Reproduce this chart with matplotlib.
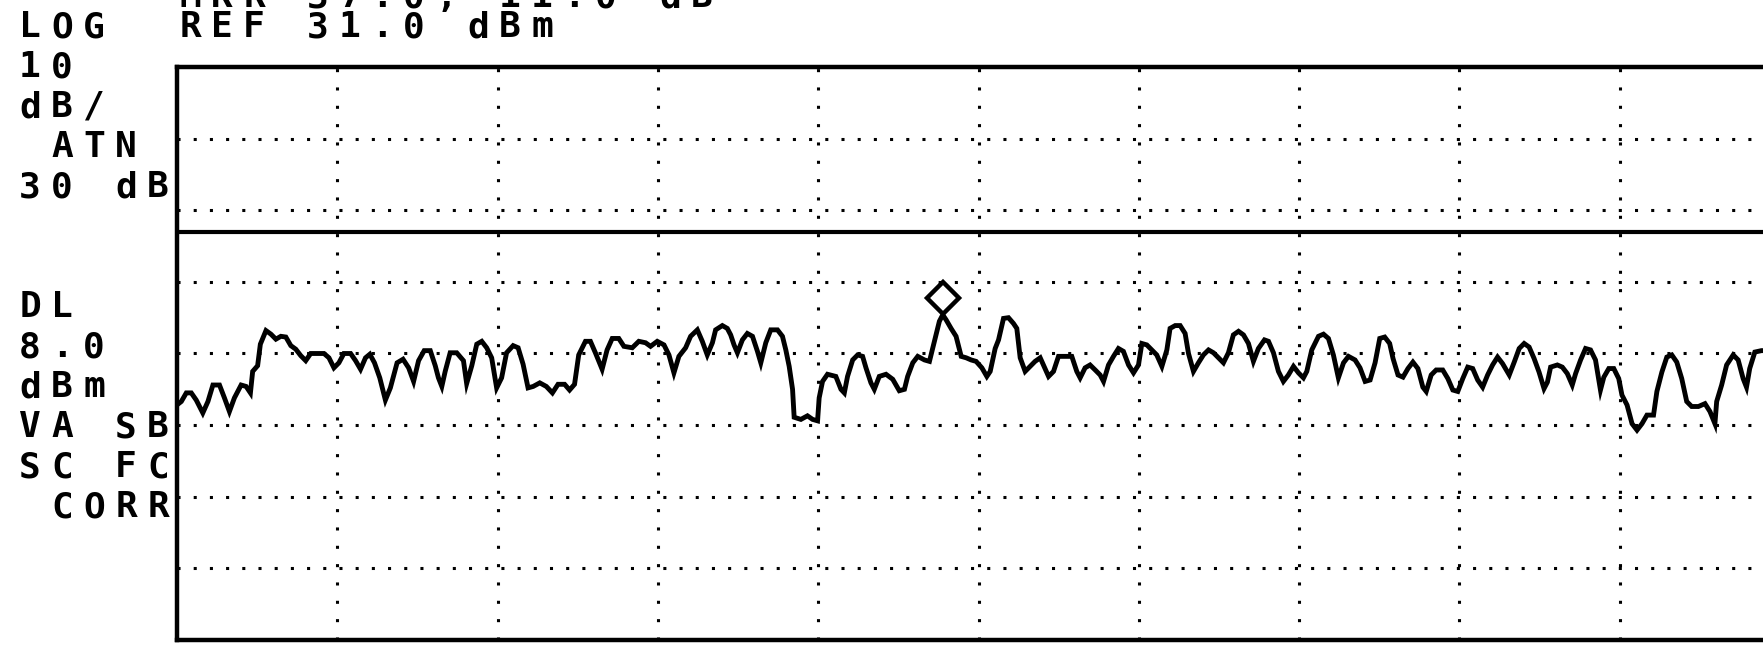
import matplotlib
matplotlib.use("Agg")
import matplotlib.pyplot as plt

# analyzer settings shown on screen
ref_level = 31.0      # dBm, top graticule line
db_per_div = 10.0
display_line = 8.0    # dBm
n_div_x = 10
n_div_y = 8

# trace: sweep position (divisions) and level (dBm)
sweep_div = [
    0.01, 0.027, 0.058, 0.089, 0.120, 0.161, 0.193, 0.224, 0.265, 0.296,
    0.327, 0.358, 0.400, 0.431, 0.458, 0.472, 0.503, 0.520, 0.555, 0.586,
    0.617, 0.648, 0.679, 0.710, 0.741, 0.772, 0.803, 0.834, 0.876, 0.917,
    0.948, 0.979, 1.010, 1.041, 1.083, 1.114, 1.145, 1.176, 1.203, 1.232,
    1.265, 1.300, 1.331, 1.373, 1.410, 1.445, 1.476, 1.507, 1.542, 1.580,
    1.611, 1.631, 1.652, 1.673, 1.704, 1.745, 1.787, 1.807, 1.839, 1.870,
    1.901, 1.932, 1.963, 1.994, 2.025, 2.056, 2.097, 2.128, 2.159, 2.190,
    2.222, 2.263, 2.304, 2.342, 2.377, 2.418, 2.449, 2.480,
    2.506, 2.548, 2.579, 2.610, 2.652, 2.683, 2.715, 2.756, 2.788, 2.840,
    2.881, 2.923, 2.954, 2.996, 3.038, 3.069, 3.100, 3.131, 3.173, 3.204,
    3.246, 3.277, 3.308, 3.340, 3.360, 3.402, 3.433, 3.454, 3.475, 3.496,
    3.527, 3.558, 3.590, 3.621, 3.642, 3.673, 3.704, 3.746, 3.777, 3.798,
    3.819, 3.840, 3.850, 3.892, 3.933, 3.965, 3.996, 4.006, 4.027, 4.058,
    4.110, 4.142, 4.163, 4.183, 4.215, 4.246, 4.277, 4.298, 4.329, 4.350,
    4.381, 4.423, 4.465, 4.506, 4.538, 4.558, 4.590, 4.621, 4.663, 4.694,
    4.725, 4.756, 4.777, 4.798, 4.829, 4.860, 4.892, 4.923, 4.954, 4.985,
    5.021, 5.052, 5.073, 5.104, 5.125, 5.156, 5.187, 5.218, 5.239, 5.260,
    5.291, 5.322, 5.353, 5.385, 5.405, 5.437, 5.468, 5.499, 5.541, 5.582,
    5.613, 5.634, 5.665, 5.696, 5.728, 5.759, 5.780, 5.811, 5.842, 5.873,
    5.904, 5.936, 5.967, 5.998, 6.019, 6.050, 6.081, 6.112, 6.144, 6.175,
    6.195, 6.227, 6.258, 6.289, 6.310, 6.341, 6.372, 6.403, 6.435, 6.466,
    6.497, 6.528, 6.559, 6.590, 6.622, 6.653, 6.684, 6.715, 6.746, 6.784,
    6.809, 6.840, 6.871, 6.902, 6.933, 6.965, 6.996, 7.027, 7.048, 7.079,
    7.121, 7.152, 7.183, 7.214, 7.245, 7.277, 7.308, 7.349, 7.380, 7.412,
    7.443, 7.474,
    7.503, 7.534, 7.565, 7.586, 7.617, 7.648, 7.679, 7.710, 7.741, 7.772,
    7.793, 7.824, 7.855, 7.896, 7.928, 7.959, 7.990, 8.021, 8.052, 8.083,
    8.114, 8.145, 8.176, 8.207, 8.238, 8.269, 8.311, 8.342, 8.373, 8.404,
    8.435, 8.466, 8.497, 8.528, 8.549, 8.569, 8.611, 8.642, 8.673, 8.704,
    8.725, 8.756, 8.787, 8.818, 8.849, 8.880, 8.901, 8.932, 8.963, 8.994,
    9.014, 9.046, 9.077, 9.108, 9.139, 9.170, 9.211, 9.232, 9.263, 9.294,
    9.325, 9.356, 9.387, 9.418, 9.449, 9.491, 9.532, 9.563, 9.594, 9.605,
    9.636, 9.667, 9.708, 9.739, 9.770, 9.791, 9.811, 9.843, 9.884, 9.950,
]
level_dbm = [
    -16.0, -15.7, -14.5, -14.5, -15.5, -17.3, -15.7, -13.4, -13.4, -15.2,
    -17.1, -15.2, -13.4, -13.6, -14.5, -11.5, -10.7, -7.7, -5.8, -6.3,
    -7.0, -6.6, -6.7, -7.9, -8.4, -9.3, -10.0, -9.0, -9.0, -9.0,
    -9.6, -11.0, -10.3, -9.0, -9.0, -10.0, -11.2, -9.6, -9.1, -10.3,
    -12.4, -15.5, -13.8, -10.3, -9.8, -11.0, -12.9, -10.0, -8.6, -8.6,
    -10.7, -12.4, -13.6, -11.5, -8.9, -8.9, -10.0, -13.2, -10.7, -7.7,
    -7.3, -8.2, -9.6, -13.8, -12.4, -8.9, -7.9, -8.2, -10.5, -13.8,
    -13.6, -13.1, -13.6, -14.5, -13.3, -13.3, -14.1, -13.3,
    -9.2, -7.3, -7.3, -8.9, -11.2, -8.5, -6.9, -6.9, -8.0, -8.2,
    -7.3, -7.5, -8.0, -7.3, -7.8, -9.2, -11.7, -9.4, -8.2, -6.6,
    -5.7, -7.3, -9.2, -7.5, -5.7, -5.1, -5.5, -6.4, -7.8, -8.9,
    -7.1, -6.2, -6.6, -8.7, -10.3, -7.5, -5.7, -5.7, -6.6, -8.5,
    -10.8, -14.0, -17.9, -18.2, -17.7, -18.2, -18.4, -15.2, -12.9, -11.9,
    -12.2, -14.0, -14.5, -12.2, -9.9, -9.2, -9.4, -11.0, -13.1, -14.0,
    -12.2, -11.9, -12.6, -14.2, -14.0, -12.2, -10.3, -9.4, -9.9, -10.1,
    -7.3, -4.5, -3.6, -4.3, -5.5, -6.6, -9.4, -9.6, -9.9, -10.1,
    -11.0, -12.2, -11.5, -8.3, -7.1, -4.1, -4.0, -4.8, -5.5, -9.6,
    -11.5, -10.8, -10.1, -9.6, -10.6, -12.2, -11.5, -9.4, -9.4, -9.4,
    -11.5, -12.4, -11.0, -10.6, -11.3, -12.0, -12.9, -10.6, -9.4, -8.3,
    -8.7, -10.6, -11.7, -10.6, -7.6, -7.8, -8.5, -9.2, -10.8, -8.5,
    -5.5, -5.1, -5.1, -6.2, -9.0, -11.5, -10.3, -9.2, -8.5, -8.9,
    -9.6, -10.3, -8.9, -6.4, -5.9, -6.4, -7.6, -10.1, -8.3, -7.1,
    -7.3, -8.9, -11.5, -12.9, -12.0, -10.8, -11.7, -12.4, -11.5, -8.5,
    -6.6, -6.3, -6.9, -9.2, -12.4, -10.3, -9.4, -9.9, -11.0, -12.9,
    -12.7, -10.3,
    -6.9, -6.7, -7.6, -9.7, -12.0, -12.3, -11.1, -10.2, -11.1, -13.7,
    -14.3, -12.0, -11.3, -11.3, -12.5, -14.1, -14.3, -12.5, -10.9, -11.1,
    -12.7, -13.7, -12.0, -10.6, -9.5, -10.4, -12.0, -10.2, -8.3, -7.6,
    -8.1, -9.7, -11.6, -13.9, -13.0, -10.9, -10.6, -10.9, -11.8, -13.4,
    -11.8, -9.9, -8.3, -8.5, -9.9, -14.1, -12.3, -11.1, -11.1, -12.5,
    -14.8, -16.2, -18.8, -19.7, -18.8, -17.6, -17.6, -14.3, -11.6, -9.5,
    -9.2, -10.2, -12.5, -15.7, -16.4, -16.4, -16.0, -17.1, -18.8, -15.7,
    -13.4, -10.6, -9.2, -9.9, -12.5, -13.7, -11.1, -8.8, -8.6, -8.6,
]

# marker (diamond) position
marker_div = 4.777
marker_dbm = -1.2

# screen annotation lines
title_line = "     MKR 37.0, 11.0 dB"
side_lines = ["LOG  REF 31.0 dBm", "10", "dB/", " ATN", "30 dB", "", "",
              "DL", "8.0", "dBm", "VA SB", "SC FC", " CORR"]

W, H = 1763, 648
fig = plt.figure(figsize=(W / 100, H / 100), dpi=100)
fig.patch.set_facecolor("white")

# graticule box: left edge at 177 px, 160.3 px per division, so the right edge is off screen
ax = fig.add_axes([177 / W, 8 / H, 1603 / W, 573 / H])
bottom_level = ref_level - n_div_y * db_per_div
ax.set_xlim(0, n_div_x)
ax.set_ylim(bottom_level, ref_level)
ax.set_xticks([])
ax.set_yticks([])
for side in ["left", "top", "bottom", "right"]:
    ax.spines[side].set_linewidth(3.2)
    ax.spines[side].set_color("black")

# dotted graticule
for k in range(1, n_div_y):
    ax.axhline(ref_level - k * db_per_div, color="black", lw=2.2,
               linestyle=(0, (1, 4.3)), dash_capstyle="butt", zorder=1)
for k in range(1, n_div_x):
    ax.axvline(k, color="black", lw=2.2,
               linestyle=(0, (1, 5.0)), dash_capstyle="butt", zorder=1)

# display line
ax.axhline(display_line, color="black", lw=3, zorder=2)

# trace
ax.plot(sweep_div, level_dbm, color="black", lw=3.5, solid_joinstyle="miter", zorder=3)

# marker
ax.plot([marker_div], [marker_dbm], marker="D", ms=16, mfc="white",
        mec="black", mew=3.2, zorder=4, clip_on=False)


def put_line(s, row):
    # fixed-pitch screen characters, 32 px per cell, 40 px per row
    base = 37 + 40 * row
    for i, ch in enumerate(s):
        if ch != " ":
            fig.text((30 + 32 * i) / W, 1 - base / H, ch, ha="center",
                     va="baseline", fontsize=26, fontweight="bold",
                     family="DejaVu Sans Mono", color="black")


put_line(title_line, -0.74)
for r, line in enumerate(side_lines):
    put_line(line, r)

fig.savefig("out.png", dpi=100, facecolor="white")
